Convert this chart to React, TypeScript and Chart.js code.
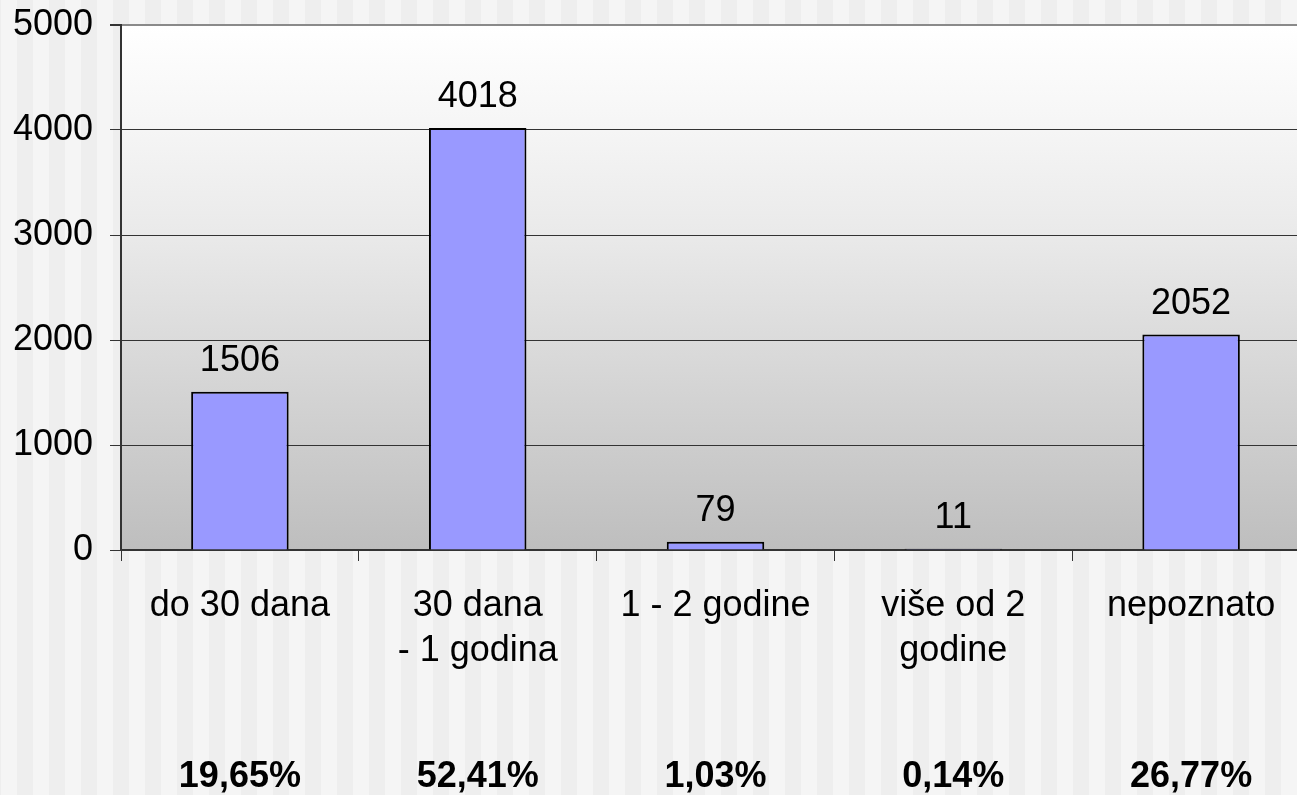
import React, { useEffect, useRef } from 'react';
import { Chart, registerables } from 'chart.js';

Chart.register(...registerables);

const categories: (string | string[])[] = [
  'do 30 dana',
  ['30 dana', '- 1 godina'],
  '1 - 2 godine',
  ['više od 2', 'godine'],
  'nepoznato',
];
const counts = [1506, 4018, 79, 11, 2052];
const percentLabels = ['19,65%', '52,41%', '1,03%', '0,14%', '26,77%'];
const yTicks = [0, 1000, 2000, 3000, 4000, 5000];

const FONT = '"Liberation Sans", Arial, Helvetica, sans-serif';

export default function App() {
  const ref = useRef<HTMLCanvasElement>(null);

  useEffect(() => {
    const canvas = ref.current;
    if (!canvas) return;

    const plotBg = {
      id: 'plotBg',
      beforeDraw(chart: any) {
        const { ctx, chartArea: a } = chart;
        const g = ctx.createLinearGradient(0, a.top, 0, a.bottom);
        g.addColorStop(0, '#ffffff');
        g.addColorStop(0.2, '#f5f5f5');
        g.addColorStop(0.41, '#e9e9e9');
        g.addColorStop(1, '#bebebe');
        ctx.save();
        ctx.fillStyle = g;
        ctx.fillRect(a.left, a.top, a.right - a.left, a.bottom - a.top);
        ctx.restore();
      },
    };

    const valueLabels = {
      id: 'valueLabels',
      afterDatasetsDraw(chart: any) {
        const ctx = chart.ctx;
        const meta = chart.getDatasetMeta(0);
        ctx.save();
        ctx.fillStyle = '#000';
        ctx.textAlign = 'center';
        ctx.textBaseline = 'alphabetic';
        ctx.font = `36px ${FONT}`;
        meta.data.forEach((bar: any, i: number) => {
          ctx.fillText(String(counts[i]), bar.x, bar.y - 21);
        });
        ctx.font = `bold 36px ${FONT}`;
        const xs = chart.scales.x;
        percentLabels.forEach((p, i) => {
          ctx.fillText(p, xs.getPixelForValue(i), 787);
        });
        ctx.restore();
      },
    };

    const chart = new Chart(canvas, {
      type: 'bar',
      data: {
        labels: categories as any,
        datasets: [
          {
            data: counts,
            backgroundColor: '#9999ff',
            borderColor: '#000000',
            borderWidth: 2,
            categoryPercentage: 1,
            barPercentage: 0.41,
          },
        ],
      },
      options: {
        animation: false,
        responsive: false,
        layout: { padding: { top: 25, right: 10, left: 0, bottom: 0 } },
        plugins: {
          legend: { display: false },
          tooltip: { enabled: false },
        },
        scales: {
          x: {
            offset: true,
            afterFit: (s: any) => {
              s.height = 245;
            },
            grid: {
              display: true,
              drawOnChartArea: false,
              drawTicks: true,
              tickLength: 11,
              color: '#333333',
              lineWidth: 1,
            },
            border: { display: true, color: '#333333', width: 2 },
            ticks: {
              color: '#000',
              padding: 23,
              maxRotation: 0,
              autoSkip: false,
              font: { family: FONT, size: 36, lineHeight: 1.25 },
            },
          },
          y: {
            min: 0,
            max: 5000,
            afterFit: (s: any) => {
              s.width = 121;
              s.paddingTop = 0;
              s.paddingBottom = 0;
            },
            afterBuildTicks: (s: any) => {
              s.ticks = yTicks.map((v) => ({ value: v }));
            },
            grid: {
              display: true,
              drawTicks: true,
              tickLength: 11,
              color: (c: any) => (c.tick && c.tick.value === 5000 ? '#8a8a8a' : '#333333'),
              lineWidth: (c: any) => (c.tick && c.tick.value === 5000 ? 2 : 1),
              tickColor: '#333333',
            },
            border: { display: true, color: '#333333', width: 2 },
            ticks: {
              color: '#000',
              padding: 17,
              font: { family: FONT, size: 36 },
              callback: (v: any) => String(v),
            },
          },
        },
      },
      plugins: [plotBg, valueLabels],
    });

    return () => {
      chart.destroy();
    };
  }, []);

  return (
    <div
      style={{
        position: 'fixed',
        left: 0,
        top: 0,
        width: 1297,
        height: 795,
        overflow: 'hidden',
        backgroundImage:
          'repeating-linear-gradient(90deg, #eeeeee 0px, #eeeeee 1px, #f5f5f5 1px, #f5f5f5 17px, #eeeeee 17px, #eeeeee 32px)',
      }}
    >
      <canvas ref={ref} width={1320} height={795} style={{ display: 'block' }} />
    </div>
  );
}
